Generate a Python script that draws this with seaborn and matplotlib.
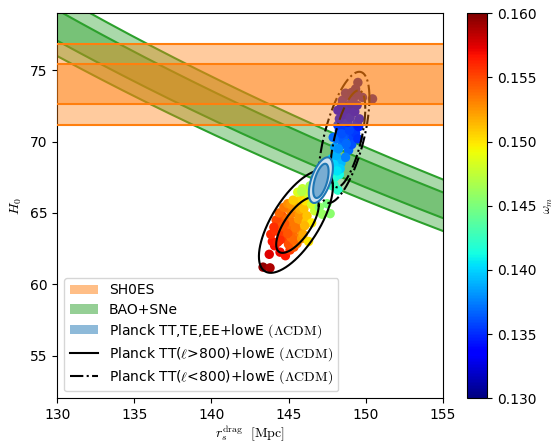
import numpy as np
import matplotlib
matplotlib.use("Agg")
import matplotlib.pyplot as plt
import matplotlib.colors as mcolors
from matplotlib.patches import Patch
from matplotlib.lines import Line2D
import seaborn as sns

plt.rcParams['mathtext.fontset'] = 'cm'
plt.rcParams['font.family'] = ['DejaVu Sans']

# ---------------- data ----------------
# SH0ES H0 measurement
sh0es_h0 = 74.03
sh0es_sig = 1.42
# BAO+SNe constraint on H0 * r_s (km/s)
bao_hrs = 10160.0
bao_sig = 140.0

# MCMC-like samples (r_s^drag, H0, omega_m)
rs_pts = [143.35, 143.80,
          143.75, 144.10, 144.45, 144.80, 143.95, 143.85, 144.30, 145.10,
          144.15, 144.50, 144.35, 144.75, 145.00, 144.60, 144.20, 145.35, 144.85, 144.40,
          145.05, 145.30, 145.60, 144.90, 145.20, 145.50, 145.80, 145.00, 145.90, 145.40,
          145.70, 145.15, 145.55, 144.70,
          144.55, 144.95, 145.25, 145.65, 145.45, 144.75, 145.75, 145.35, 144.95, 145.15,
          146.15, 145.85, 144.45, 144.05, 145.95,
          145.60, 146.00, 145.80, 146.20, 146.10, 145.30, 146.30, 146.50, 146.05, 145.95,
          145.60, 145.90, 146.25, 146.50, 146.70, 145.85, 146.40,
          147.70, 147.50, 146.60, 147.00, 147.20,
          147.85, 147.60, 148.20, 148.00, 147.70, 148.30, 147.75, 147.95,
          147.80, 148.10, 148.40, 148.00, 148.35, 147.95, 148.15,
          148.10, 148.50, 148.80, 148.30, 149.00, 148.60, 149.20, 148.90, 148.70, 149.40,
          148.20, 149.10, 148.55, 148.25, 148.75, 149.35, 148.45, 148.95,
          149.50, 147.90, 149.55,
          149.45, 148.45, 148.85,
          148.30, 148.60, 149.00, 148.90, 149.30, 148.20, 149.60,
          148.45, 149.05, 149.45,
          148.50, 148.90, 149.20, 149.50, 149.80, 148.70, 149.10, 150.45, 149.50, 149.35]
h0_pts = [61.20, 61.15,
          62.10, 62.70, 62.25, 62.00, 63.00, 63.50, 62.95, 62.40,
          63.75, 63.50, 64.30, 63.20, 62.80, 64.80, 64.50, 62.60, 63.90, 65.00,
          64.20, 63.60, 63.20, 64.60, 64.95, 64.30, 63.80, 65.30, 64.60, 65.40,
          64.90, 63.30, 62.85, 65.40,
          64.05, 63.55, 64.35, 64.55, 63.95, 64.25, 65.25, 63.10, 65.65, 65.60,
          64.40, 63.20, 63.10, 64.00, 65.75,
          65.65, 65.30, 66.00, 64.80, 65.85, 65.90, 63.00, 64.30, 64.10, 63.50,
          66.45, 66.70, 66.35, 65.60, 65.15, 66.50, 66.90,
          64.95, 65.65, 66.00, 65.40, 64.90,
          66.90, 67.00, 66.60, 67.50, 68.20, 67.70, 67.45, 66.95,
          68.80, 69.00, 68.50, 69.60, 68.10, 68.40, 67.95,
          70.20, 69.80, 70.50, 70.80, 71.00, 71.10, 70.30, 69.40, 68.90, 71.00,
          71.15, 69.80, 70.20, 69.50, 69.85, 70.60, 70.55, 70.80,
          70.20, 70.30, 71.05,
          71.30, 71.40, 71.35,
          71.60, 71.90, 71.70, 72.30, 72.10, 72.20, 71.60,
          72.55, 72.65, 72.55,
          72.90, 73.20, 73.00, 73.30, 73.10, 73.40, 73.45, 73.00, 74.15, 73.70]
om_pts = [0.1595, 0.1588,
          0.1575, 0.1568, 0.1570, 0.1565, 0.1565, 0.1560, 0.1562, 0.1555,
          0.1557, 0.1555, 0.1552, 0.1552, 0.1548, 0.1545, 0.1550, 0.1545, 0.1548, 0.1540,
          0.1540, 0.1538, 0.1535, 0.1538, 0.1532, 0.1530, 0.1528, 0.1530, 0.1522, 0.1525,
          0.1525, 0.1540, 0.1535, 0.1535,
          0.1545, 0.1545, 0.1535, 0.1525, 0.1535, 0.1545, 0.1518, 0.1540, 0.1528, 0.1525,
          0.1512, 0.1525, 0.1560, 0.1558, 0.1505,
          0.1515, 0.1512, 0.1505, 0.1510, 0.1500, 0.1508, 0.1500, 0.1498, 0.1515, 0.1520,
          0.1485, 0.1478, 0.1480, 0.1482, 0.1478, 0.1470, 0.1465,
          0.1455, 0.1450, 0.1460, 0.1455, 0.1460,
          0.1425, 0.1430, 0.1420, 0.1415, 0.1410, 0.1412, 0.1418, 0.1425,
          0.1395, 0.1390, 0.1392, 0.1385, 0.1398, 0.1400, 0.1405,
          0.1372, 0.1370, 0.1362, 0.1360, 0.1355, 0.1355, 0.1358, 0.1368, 0.1375, 0.1350,
          0.1355, 0.1362, 0.1365, 0.1380, 0.1368, 0.1355, 0.1362, 0.1358,
          0.1352, 0.1370, 0.1348,
          0.1345, 0.1348, 0.1345,
          0.1342, 0.1338, 0.1340, 0.1332, 0.1335, 0.1335, 0.1340,
          0.1330, 0.1325, 0.1328,
          0.1325, 0.1320, 0.1322, 0.1318, 0.1318, 0.1318, 0.1315, 0.1315, 0.1310, 0.1312]

# contour ellipses: (centre rs, centre H0, half-extent rs, half-extent H0, correlation)
planck_full = [(147.10, 67.30, 0.78, 1.60, 0.55), (147.10, 67.25, 0.50, 1.20, 0.55)]
planck_hi = [(145.48, 64.40, 2.40, 3.60, 0.68), (145.58, 64.15, 1.38, 1.95, 0.70)]
planck_lo = [(148.60, 70.30, 1.65, 4.60, 0.60), (148.85, 70.20, 1.13, 3.40, 0.62)]

legend_labels = ['SH0ES', 'BAO+SNe',
                 r'Planck TT,TE,EE+lowE $(\Lambda\mathrm{CDM})$',
                 r'Planck TT($\ell$>800)+lowE $(\Lambda\mathrm{CDM})$',
                 r'Planck TT($\ell$<800)+lowE $(\Lambda\mathrm{CDM})$']


def ellipse_xy(cx, cy, a, b, rho, n=300):
    t = np.linspace(0, 2 * np.pi, n)
    x = cx + a * np.cos(t)
    y = cy + b * (rho * np.cos(t) + np.sqrt(1 - rho ** 2) * np.sin(t))
    return x, y


def mix(c, a):
    r = np.array(mcolors.to_rgb(c))
    return tuple(1 - a * (1 - r))


jet = matplotlib.colormaps['jet']

# ---------------- figure ----------------
fig = plt.figure(figsize=(5.55, 4.44), dpi=100)
ax = fig.add_axes([0.1032, 0.1029, 0.6944, 0.8671])
cax = fig.add_axes([0.842, 0.1029, 0.036, 0.8671])

xlim = (130, 155)
rs_grid = np.linspace(xlim[0], xlim[1], 300)

# BAO+SNe band (below samples)
for k in (2, 1):
    lo = (bao_hrs - k * bao_sig) / rs_grid
    hi = (bao_hrs + k * bao_sig) / rs_grid
    ax.fill_between(rs_grid, lo, hi, color='C2', alpha=0.4, lw=0, zorder=1)
    ax.plot(rs_grid, lo, color='C2', lw=1.5, zorder=1.1)
    ax.plot(rs_grid, hi, color='C2', lw=1.5, zorder=1.1)

# samples
norm = mcolors.Normalize(0.13, 0.16)
sns.scatterplot(x=rs_pts, y=h0_pts, hue=om_pts, palette=jet, hue_norm=norm,
                s=46, linewidth=0, legend=False, ax=ax, zorder=2)

# Planck TT l>800 contours
for (cx, cy, a, b, r) in planck_hi:
    x, y = ellipse_xy(cx, cy, a, b, r)
    ax.plot(x, y, color='k', lw=1.5, zorder=3)
# Planck TT l<800 contours
for (cx, cy, a, b, r) in planck_lo:
    x, y = ellipse_xy(cx, cy, a, b, r)
    ax.plot(x, y, color='k', lw=1.5, ls='-.', zorder=3)

# Planck full contours (filled)
for (cx, cy, a, b, r), alpha in zip(planck_full, (0.22, 0.6)):
    x, y = ellipse_xy(cx, cy, a, b, r)
    ax.fill(x, y, facecolor=mix('C0', alpha), edgecolor='C0', lw=1.5, zorder=4)

# SH0ES band (on top)
for k in (2, 1):
    lo, hi = sh0es_h0 - k * sh0es_sig, sh0es_h0 + k * sh0es_sig
    ax.fill_between(xlim, [lo, lo], [hi, hi], color='C1', alpha=0.4, lw=0, zorder=5)
    ax.axhline(lo, color='C1', lw=1.5, zorder=5.1)
    ax.axhline(hi, color='C1', lw=1.5, zorder=5.1)

ax.set_xlim(*xlim)
ax.set_ylim(52, 79)
ax.set_xticks([130, 135, 140, 145, 150, 155])
ax.set_yticks([55, 60, 65, 70, 75])
ax.set_xlabel(r'$r_s^{\rm drag}\ \ [{\rm Mpc}]$', labelpad=1)
ax.set_ylabel(r'$H_0$')

handles = [Patch(facecolor='C1', alpha=0.5),
           Patch(facecolor='C2', alpha=0.5),
           Patch(facecolor='C0', alpha=0.5),
           Line2D([], [], color='k', lw=1.5),
           Line2D([], [], color='k', lw=1.5, ls='-.')]
leg = ax.legend(handles, legend_labels, loc='lower left', fontsize=10,
                labelspacing=0.38)
leg.set_zorder(10)

sm = matplotlib.cm.ScalarMappable(norm=norm, cmap=jet)
cb = fig.colorbar(sm, cax=cax)
cb.set_ticks([0.130, 0.135, 0.140, 0.145, 0.150, 0.155, 0.160])
cb.ax.yaxis.set_major_formatter(matplotlib.ticker.FormatStrFormatter('%.3f'))
cb.set_label(r'$\omega_m$', labelpad=4, fontsize=9)

fig.savefig('out.png', dpi=100)
